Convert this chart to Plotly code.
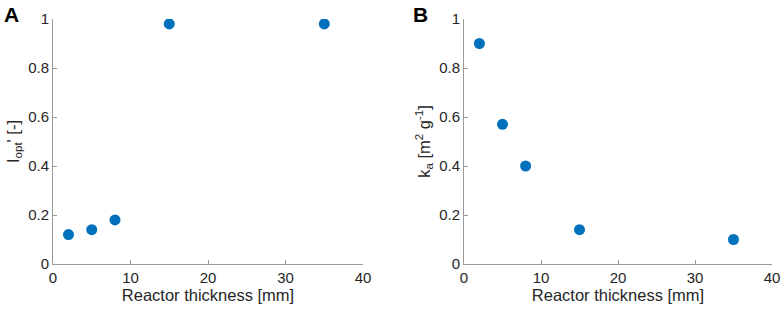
import plotly.graph_objects as go

thickness = [2, 5, 8, 15, 35]
i_opt = [0.12, 0.14, 0.18, 0.98, 0.98]
k_a = [0.90, 0.57, 0.40, 0.14, 0.10]
x_ticks = [0, 10, 20, 30, 40]
y_ticks = [0, 0.2, 0.4, 0.6, 0.8, 1]
y_ticklabels = ["0", "0.2", "0.4", "0.6", "0.8", "1"]

W, H = 782, 310
color = "#0072BD"
fnt = "Liberation Sans, Arial, sans-serif"
txt = "#262626"
axc = "#9a9a9a"

fig = go.Figure()
fig.add_trace(go.Scatter(x=thickness, y=i_opt, mode="markers",
                         marker=dict(color=color, size=11), xaxis="x", yaxis="y", showlegend=False))
fig.add_trace(go.Scatter(x=thickness, y=k_a, mode="markers",
                         marker=dict(color=color, size=11), xaxis="x2", yaxis="y2", showlegend=False))

ydom = [(H - 264) / H, (H - 19) / H]
common_x = dict(range=[0, 40], tickvals=x_ticks, showgrid=False, zeroline=False, automargin=False,
                showline=True, linecolor=axc, linewidth=1, ticks="inside", ticklen=4,
                tickcolor=axc, tickfont=dict(family=fnt, size=15, color=txt),
                title=dict(text="Reactor thickness [mm]", font=dict(family=fnt, size=16.5, color=txt), standoff=2))
common_y = dict(range=[0, 1], tickvals=y_ticks, ticktext=y_ticklabels, showgrid=False, zeroline=False,
                automargin=False,
                showline=True, linecolor=axc, linewidth=1, ticks="inside", ticklen=4,
                tickcolor=axc, tickfont=dict(family=fnt, size=15, color=txt), domain=ydom)

fig.update_layout(
    width=W, height=H, margin=dict(l=0, r=0, t=0, b=0),
    paper_bgcolor="white", plot_bgcolor="white",
    xaxis=dict(domain=[53 / W, 363 / W], anchor="y", **common_x),
    yaxis=dict(anchor="x", title=dict(text="I<sub>opt</sub>' [-]", font=dict(family=fnt, size=16.5, color=txt), standoff=4), **common_y),
    xaxis2=dict(domain=[464 / W, 772 / W], anchor="y2", **common_x),
    yaxis2=dict(anchor="x2", title=dict(text="k<sub>a</sub> [m<sup>2</sup> g<sup>-1</sup>]", font=dict(family=fnt, size=16.5, color=txt), standoff=4), **common_y),
    annotations=[
        dict(text="<b>A</b>", x=2 / W, y=1 - 1 / H, xref="paper", yref="paper", xanchor="left", yanchor="top",
             showarrow=False, font=dict(family=fnt, size=21, color="black")),
        dict(text="<b>B</b>", x=411 / W, y=1 - 1 / H, xref="paper", yref="paper", xanchor="left", yanchor="top",
             showarrow=False, font=dict(family=fnt, size=21, color="black")),
    ],
)

fig.write_html("out.html", config={"displayModeBar": False},
               post_script="document.body.style.margin='0';document.body.style.overflow='hidden';")
